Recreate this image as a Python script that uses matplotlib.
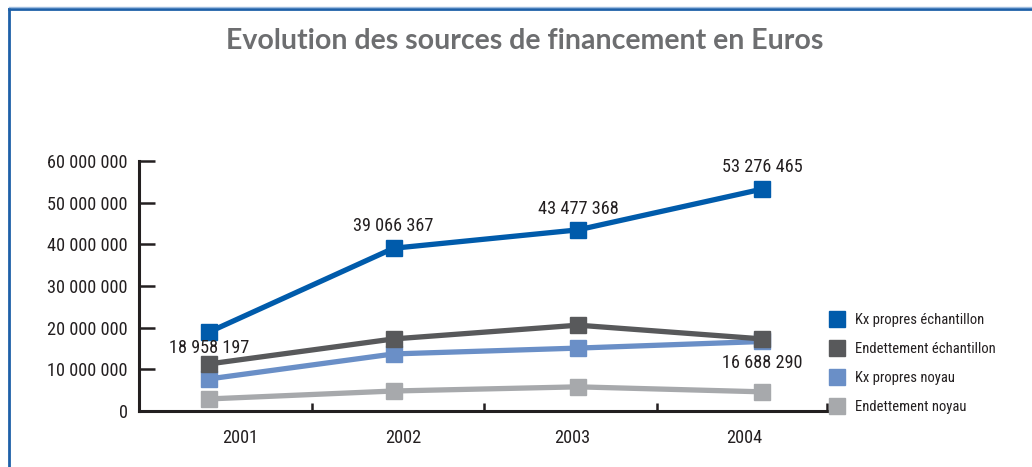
"""Evolution des sources de financement (2001-2004), courbes avec marqueurs carrés."""

import matplotlib

matplotlib.use("Agg")
import matplotlib.pyplot as plt
from matplotlib import font_manager
from matplotlib.font_manager import FontProperties
from matplotlib.lines import Line2D
from matplotlib.ticker import FuncFormatter, FixedLocator

years = ["2001", "2002", "2003", "2004"]

kx_propres_echantillon = [18958197, 39066367, 43477368, 53276465]
endettement_echantillon = [11300000, 17300000, 20600000, 17300000]
kx_propres_noyau = [7700000, 13700000, 15100000, 16688290]
endettement_noyau = [2900000, 4800000, 5800000, 4600000]

series_names = [
    "Kx propres échantillon",
    "Endettement échantillon",
    "Kx propres noyau",
    "Endettement noyau",
]
series_values = [
    kx_propres_echantillon,
    endettement_echantillon,
    kx_propres_noyau,
    endettement_noyau,
]
series_colors = ["#005bab", "#58595b", "#6a8fc7", "#a7a9ac"]

y_ticks = [0, 10000000, 20000000, 30000000, 40000000, 50000000, 60000000]

TEXT_COLOR = "#231f20"


def narrow_font():
    """Chemin d'une police sans empattement étroite, sinon None."""
    prefs = ["Liberation Sans Narrow", "Roboto Condensed", "Noto Sans", "DejaVu Sans",
             "Open Sans", "Roboto", "Liberation Sans"]
    found = []
    for f in font_manager.fontManager.ttflist:
        fname = f.fname.lower()
        narrow = (f.stretch in ("condensed", "semi-condensed", "extra-condensed")
                  or "narrow" in fname or "condensed" in fname)
        if not narrow or f.style != "normal":
            continue
        if f.weight not in (400, "normal", "regular"):
            continue
        rank = prefs.index(f.name) if f.name in prefs else len(prefs)
        if "semi" in fname or "extra" in fname:
            rank += 0.5
        found.append((rank, f.fname))
    return sorted(found)[0][1] if found else None


NARROW_PATH = narrow_font()


def narrow(size):
    if NARROW_PATH:
        return FontProperties(fname=NARROW_PATH, size=size)
    return FontProperties(family="Liberation Sans", size=size)


def fmt_millions(v, _pos=None):
    return f"{int(v):,}".replace(",", " ")


fig = plt.figure(figsize=(10.32, 4.67), dpi=100)
renderer = fig.canvas.get_renderer()

# taille de police réglée sur la largeur d'un libellé d'axe (~80 px)
probe = fig.text(0, 0, "60 000 000", fontproperties=narrow(13))
w = probe.get_window_extent(renderer).width
probe.remove()
FS = min(13 * 80 / w, 14.5)

ax = fig.add_axes([0.1347, 0.1199, 0.8014 - 0.1347, 0.6552 - 0.1199])

x = list(range(len(years)))
for values, color in zip(series_values[::-1], series_colors[::-1]):
    ax.plot(x, values, color=color, lw=3.8, marker="s", ms=11.5,
            solid_joinstyle="miter", clip_on=False, zorder=3)

# valeurs affichées
labelled = [
    (0, kx_propres_echantillon[0], -16),
    (1, kx_propres_echantillon[1], 22),
    (2, kx_propres_echantillon[2], 21),
    (3, kx_propres_echantillon[3], 22),
    (3, kx_propres_noyau[3], -22),
]
for xi, v, dy in labelled:
    ax.annotate(fmt_millions(v), (xi, v), xytext=(0, dy), textcoords="offset pixels",
                ha="center", va="center", fontproperties=narrow(FS),
                color=TEXT_COLOR, zorder=4)

ax.set_ylim(0, 60000000)
ax.set_xlim(-0.38, 3.35)

ax.yaxis.set_major_locator(FixedLocator(y_ticks))
ax.yaxis.set_major_formatter(FuncFormatter(fmt_millions))
ax.tick_params(axis="y", direction="in", length=11.5, width=1.8, pad=8,
               labelcolor=TEXT_COLOR, color="#231f20")

# séparateurs de catégories en ticks majeurs, années en ticks mineurs
bounds = [-0.38, 0.559, 1.49, 2.43, 3.35]
ax.xaxis.set_major_locator(FixedLocator(bounds))
ax.set_xticklabels([""] * len(bounds))
year_pos = [0.168, 1.053, 1.97, 2.903]
ax.xaxis.set_minor_locator(FixedLocator(year_pos))
ax.set_xticklabels(years, minor=True)
ax.tick_params(axis="x", which="major", direction="in", length=6, width=1.8,
               color="#231f20")
ax.tick_params(axis="x", which="minor", length=0, pad=13, labelcolor=TEXT_COLOR)

for lbl in ax.get_yticklabels() + ax.get_xticklabels(minor=True):
    lbl.set_fontproperties(narrow(FS))

for side in ("top", "right"):
    ax.spines[side].set_visible(False)
for side in ("left", "bottom"):
    ax.spines[side].set_linewidth(2.2)
    ax.spines[side].set_color("#231f20")
    ax.spines[side].set_capstyle("projecting")

fig.text(0.508, 0.912, "Evolution des sources de financement en Euros",
         ha="center", va="center", fontsize=20.5, fontweight="bold",
         family=["Lato", "DejaVu Sans"], color="#6d6e70")

handles = [Line2D([], [], ls="none", marker="s", ms=12, color=c) for c in series_colors]
leg = fig.legend(handles, series_names, loc="upper left",
                 bbox_to_anchor=(0.791, 0.357), frameon=False,
                 handlelength=1.0, handletextpad=0.75, labelspacing=1.02,
                 prop=narrow(FS * 0.8))
for t in leg.get_texts():
    t.set_color(TEXT_COLOR)

# cadre bleu en haut et à gauche
fig.add_artist(Line2D([0.0087, 0.0087], [0.0, 0.981], transform=fig.transFigure,
                      color="#1e60a8", lw=2))
fig.add_artist(Line2D([0.0087, 1.0], [0.981, 0.981], transform=fig.transFigure,
                      color="#1e60a8", lw=2))
fig.add_artist(Line2D([0.0087, 1.0], [0.985, 0.985], transform=fig.transFigure,
                      color="#9fbde0", lw=1))

fig.savefig("out.png", dpi=100, facecolor="white")
